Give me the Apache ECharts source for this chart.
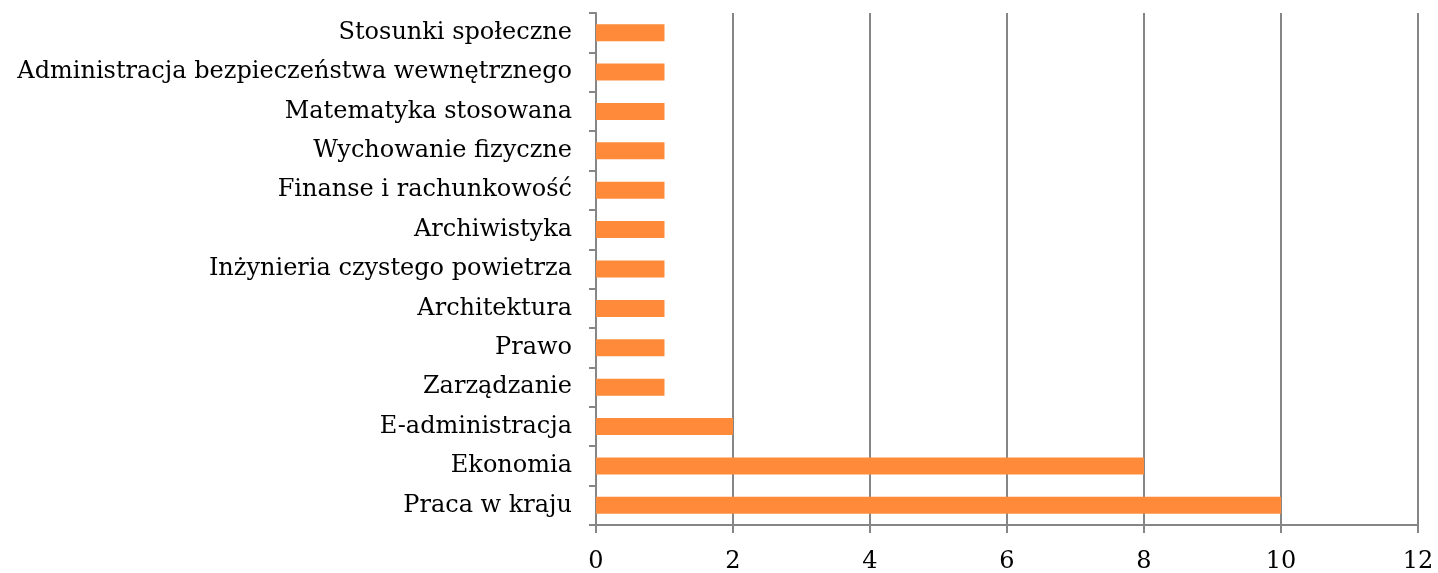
<!DOCTYPE html>
<html>
<head>
    <meta http-equiv="Content-Type" content="text/html; charset=utf-8">
    <title>Kierunki</title>
    <script src="https://cdn.jsdelivr.net/npm/echarts@6/dist/echarts.min.js"></script>
    <style>
        body {margin:0; background:#fff;}
    </style>
</head>
<body>
    <div id="main" style="width: 1438px;height:573px;"></div>
    <script type="text/javascript">
        // kategorie od dołu do góry
        var categories = ["Praca w kraju", "Ekonomia", "E-administracja", "Zarządzanie", "Prawo",
            "Architektura", "Inżynieria czystego powietrza", "Archiwistyka", "Finanse i rachunkowość",
            "Wychowanie fizyczne", "Matematyka stosowana", "Administracja bezpieczeństwa wewnętrznego",
            "Stosunki społeczne"];
        var values = [10, 8, 2, 1, 1, 1, 1, 1, 1, 1, 1, 1, 1];
        var xTicks = [0, 2, 4, 6, 8, 10, 12];

        var myChart = echarts.init(document.getElementById('main'));
        var gray = '#868686';
        var font = 'DejaVu Serif';

        var option = {
            animation: false,
            grid: {left: 596, right: 20, top: 13, bottom: 48, outerBoundsMode: 'none'},
            xAxis: {
                type: 'value',
                min: xTicks[0],
                max: xTicks[xTicks.length - 1],
                interval: xTicks[1] - xTicks[0],
                axisLine: {show: true, lineStyle: {color: gray, width: 2}},
                axisTick: {show: true, length: 8, lineStyle: {color: gray, width: 2}},
                splitLine: {show: true, lineStyle: {color: gray, width: 2}},
                axisLabel: {color: '#000', fontFamily: font, fontSize: 24, margin: 25}
            },
            yAxis: {
                type: 'category',
                data: categories,
                axisLine: {show: true, lineStyle: {color: gray, width: 2}},
                axisTick: {show: true, length: 7, lineStyle: {color: gray, width: 2}},
                axisLabel: {color: '#000', fontFamily: font, fontSize: 24, margin: 24}
            },
            series: [{
                type: 'bar',
                data: values,
                barWidth: 17,
                itemStyle: {color: '#FF8B3A'}
            }]
        };
        myChart.setOption(option);
    </script>
</body>
</html>
